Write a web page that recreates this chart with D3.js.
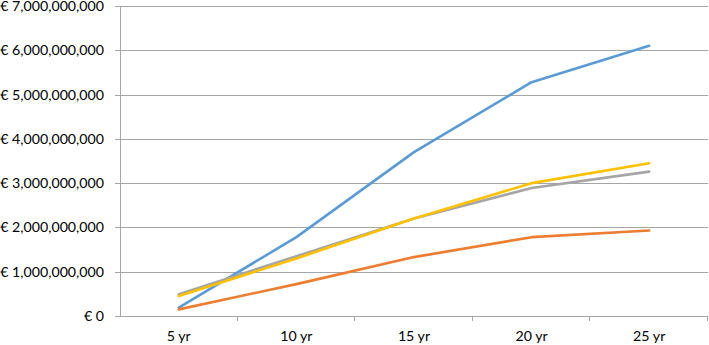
<!DOCTYPE html>
<html>
<head>
<meta charset="utf-8">
<script src="https://cdn.jsdelivr.net/npm/d3@7"></script>
<style>
  body { margin: 0; background: #fff; }
  svg { display: block; }
  text { font-family: Lato, "Open Sans", sans-serif; fill: #000; }
</style>
</head>
<body>
<div id="chart"></div>
<script>
// data
const categories = ["5 yr", "10 yr", "15 yr", "20 yr", "25 yr"];
const blueValues = [0.19e9, 1.78e9, 3.70e9, 5.28e9, 6.10e9];
const orangeValues = [0.15e9, 0.72e9, 1.33e9, 1.78e9, 1.93e9];
const grayValues = [0.49e9, 1.35e9, 2.20e9, 2.89e9, 3.26e9];
const yellowValues = [0.45e9, 1.30e9, 2.20e9, 3.00e9, 3.45e9];
const yTicks = [0, 1e9, 2e9, 3e9, 4e9, 5e9, 6e9, 7e9];

const series = [
    { name: "blue", values: blueValues, color: "#5B9BD5" },
    { name: "orange", values: orangeValues, color: "#ED7D31" },
    { name: "gray", values: grayValues, color: "#A5A5A5" },
    { name: "yellow", values: yellowValues, color: "#FFC000" }
];

const width = 709, height = 345;
const margin = { top: 6, right: 1, bottom: 29, left: 120 };

const svg = d3.select("#chart").append("svg")
    .attr("width", width)
    .attr("height", height);

const x = d3.scaleBand()
    .domain(categories)
    .range([margin.left, width - margin.right]);

const y = d3.scaleLinear()
    .domain([0, 7e9])
    .range([height - margin.bottom, margin.top]);

const fmt = v => v === 0 ? "€ 0" : "€ " + d3.format(",")(v);

// gridlines
svg.append("g")
    .selectAll("line")
    .data(yTicks)
    .join("line")
    .attr("x1", margin.left - 5)
    .attr("x2", width - margin.right)
    .attr("y1", d => Math.round(y(d)) + 0.5)
    .attr("y2", d => Math.round(y(d)) + 0.5)
    .attr("stroke", "#a6a6a6")
    .attr("stroke-width", 1);

// y labels
svg.append("g")
    .selectAll("text")
    .data(yTicks)
    .join("text")
    .attr("x", margin.left - 16)
    .attr("y", d => y(d))
    .attr("dy", "0.35em")
    .attr("text-anchor", "end")
    .style("font-size", "14.2px")
    .text(fmt);

// y axis line
svg.append("line")
    .attr("x1", margin.left + 0.5).attr("x2", margin.left + 0.5)
    .attr("y1", y(7e9)).attr("y2", y(0))
    .attr("stroke", "#a6a6a6");

// x category ticks
const xBounds = categories.map(c => x(c)).concat([x.range()[1]]);
svg.append("g")
    .selectAll("line")
    .data(xBounds.slice(1))
    .join("line")
    .attr("x1", d => Math.round(d) - 0.5)
    .attr("x2", d => Math.round(d) - 0.5)
    .attr("y1", Math.round(y(0)))
    .attr("y2", Math.round(y(0)) + 5)
    .attr("stroke", "#a6a6a6");

svg.append("g")
    .selectAll("text")
    .data(categories)
    .join("text")
    .attr("x", d => x(d) + x.bandwidth() / 2)
    .attr("y", height - 4)
    .attr("text-anchor", "middle")
    .style("font-size", "14.2px")
    .text(d => d);

// lines
const line = d3.line()
    .x((d, i) => x(categories[i]) + x.bandwidth() / 2)
    .y(d => y(d));

svg.append("g")
    .selectAll("path")
    .data(series)
    .join("path")
    .attr("d", d => line(d.values))
    .attr("fill", "none")
    .attr("stroke", d => d.color)
    .attr("stroke-width", 2.6)
    .attr("stroke-linejoin", "round")
    .attr("stroke-linecap", "round");
</script>
</body>
</html>
